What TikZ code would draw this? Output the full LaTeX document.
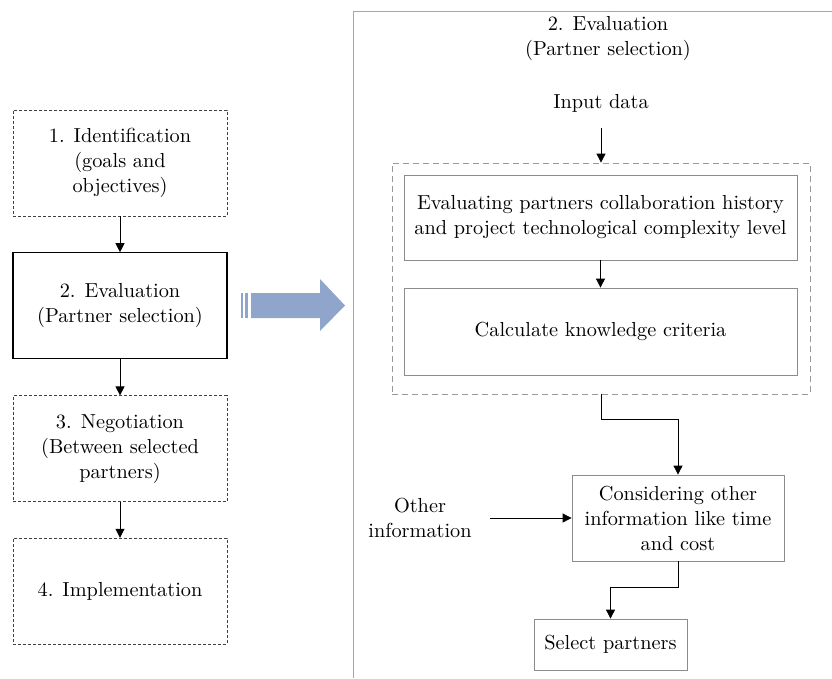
\documentclass[tikz,border=0pt]{standalone}
\usepackage{fontspec}
\setmainfont{lmroman10-regular.otf}
\usepackage{tikz}
\usetikzlibrary{arrows.meta,positioning}

\definecolor{bigarrow}{RGB}{143,165,204}

\begin{document}
\begin{tikzpicture}[
  x=1pt,y=-1pt,
  font=\fontsize{20.3}{25}\selectfont,
  node distance=36pt,
  phase/.style={draw=black!75,dash pattern=on 3pt off 2pt,minimum width=214pt,minimum height=106pt,align=center,inner sep=2pt},
  task/.style={draw=black!45,line width=.8pt,align=center,inner sep=2pt},
  flow/.style={line width=.8pt,-{Triangle[length=9pt,width=9pt]}}
]
  \useasboundingbox (0,0) rectangle (832,678);

  % left column: the four phases
  \node[phase] at (120,163) (ident) {1. Identification\\(goals and\\objectives)};
  \node[phase,draw=black,solid,line width=1.2pt,below=of ident] (eval) {2. Evaluation\\(Partner selection)};
  \node[phase,below=of eval] (nego) {3. Negotiation\\(Between selected\\partners)};
  \node[phase,below=of nego] (impl) {4. Implementation};

  \draw[flow] (ident) -- (eval);
  \draw[flow] (eval) -- (nego);
  \draw[flow] (nego) -- (impl);

  % big arrow towards the detail panel
  \fill[bigarrow] (240.5,293) rectangle (243,318);
  \fill[bigarrow] (245,293) rectangle (247.5,318);
  \fill[bigarrow] (251,293) -- (320,293) -- (320,279) -- (345,305.5)
    -- (320,331) -- (320,318) -- (251,318) -- cycle;

  % detail panel
  \draw[black!35,line width=.8pt] (353,678) -- (353,11) -- (832,11);
  \node[align=center] at (608,38) (title) {2. Evaluation\\(Partner selection)};
  \node at (601,103) (input) {Input data};

  \node[draw=black!40,line width=.8pt,dash pattern=on 6pt off 4pt,minimum width=418pt,minimum height=231pt] at (601,278.5) (group) {};
  \node[task,minimum width=393pt,minimum height=85pt] at (600.5,217.5) (history)
    {Evaluating partners collaboration history\\and project technological complexity level};
  \node[task,minimum width=393pt,minimum height=87pt] at (600.5,331.5) (criteria)
    {Calculate knowledge criteria};

  \node[task,minimum width=212pt,minimum height=86pt] at (678,518) (consider)
    {Considering other\\information like time\\and cost};
  \node[align=center] at (420,518) (other) {Other\\information};
  \node[task,minimum width=153pt,minimum height=51pt] at (610.5,644.5) (select) {Select partners};

  \draw[flow,shorten <=12pt] (input) -- (group);
  \draw[flow] (history) -- (criteria);
  \draw[flow] (group.south) -- ++(0,25) -| (consider.north);
  \draw[flow,shorten <=15pt] (other.east) -- (consider.west);
  \draw[flow] (consider.south) -- ++(0,26) -| (select.north);
\end{tikzpicture}
\end{document}
